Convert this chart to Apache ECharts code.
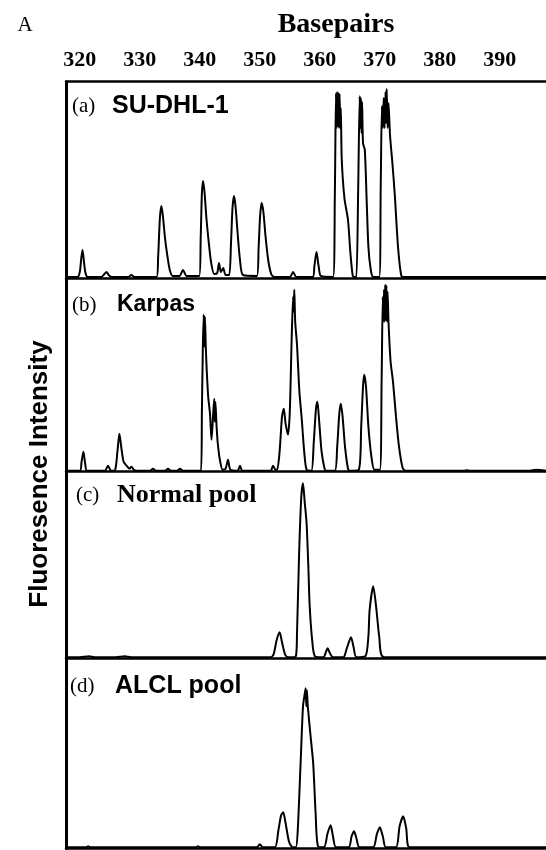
<!DOCTYPE html>
<html>
<head>
<meta charset="utf-8">
<script src="https://cdn.jsdelivr.net/npm/echarts@6/dist/echarts.min.js"></script>
<style>
html,body{margin:0;padding:0;background:#fff;}
#chart{width:546px;height:850px;}
</style>
</head>
<body>
<div id="chart"></div>
<script>
// ---- data (basepairs, fluorescence) ----
const tickLabels = [320, 330, 340, 350, 360, 370, 380, 390];
const panelNames = ['SU-DHL-1', 'Karpas', 'Normal pool', 'ALCL pool'];
const panelTags = ['(a)', '(b)', '(c)', '(d)'];

const traceA = [
  [317.7,1],[319.6,1],[320.0,6],[320.25,20],[320.45,28],[320.7,16],[320.95,5],[321.3,1],
  [323.6,1],[324.1,4],[324.45,6],[324.8,3],[325.3,1],[328.1,1],[328.6,3],[329.1,1],
  [332.8,1],[333.05,20],[333.35,60],[333.6,72],[333.85,62],[334.2,40],[334.6,22],[335.0,8],[335.5,2],
  [336.6,2],[337.2,8],[337.8,2],
  [339.9,2],[340.15,40],[340.35,85],[340.55,97],[340.8,85],[341.1,60],[341.5,35],[341.9,15],[342.4,4],
  [342.9,5],[343.2,15],[343.5,6],[343.9,10],[344.3,3],
  [344.9,3],[345.2,35],[345.45,70],[345.7,82],[345.95,72],[346.3,45],[346.7,18],[347.2,3],
  [349.5,2],[349.8,30],[350.05,62],[350.3,75],[350.6,66],[350.95,42],[351.4,18],[351.9,4],[352.4,1],
  [355.0,1],[355.55,6],[356.1,1],
  [358.8,1],[359.1,12],[359.45,26],[359.8,12],[360.2,2],
  [362.2,1],[362.5,80],[362.7,185],[362.8,150],[362.9,186],[363.0,152],[363.1,185],[363.2,150],
  [363.3,184],[363.4,150],[363.5,170],[363.65,120],[364.1,80],[364.7,58],[365.1,25],[365.5,2],[365.8,1],
  [366.1,1],[366.4,90],[366.65,182],[366.75,150],[366.85,180],[366.95,145],[367.05,176],[367.2,135],
  [367.5,128],[367.8,80],[368.1,31],[368.5,8],[368.9,1],
  [369.9,1],[370.15,90],[370.35,172],[370.5,150],[370.65,180],[370.8,150],[370.95,186],[371.05,155],
  [371.15,189],[371.3,150],[371.45,175],[371.7,143],[372.1,115],[372.5,83],[373.05,30],[373.6,2],[374.2,1],
  [397.7,1]
];

const traceB = [
  [317.7,1],[320.0,1],[320.3,10],[320.6,20],[320.9,8],[321.2,1],
  [324.2,1],[324.7,6],[325.2,1],[325.9,2],[326.3,22],[326.6,38],[326.9,25],[327.3,10],[327.8,6],
  [328.3,3],[328.6,5],[329.0,2],[329.5,1],
  [331.7,1],[332.2,3],[332.7,1],[334.2,1],[334.7,3],[335.2,1],[336.2,1],[336.7,3],[337.2,1],
  [340.2,1],[340.35,60],[340.5,122],[340.65,157],[340.75,125],[340.85,155],[341.0,125],[341.15,102],[341.4,75],
  [341.7,58],[341.95,32],[342.2,55],[342.4,73],[342.5,50],[342.6,70],[342.8,45],[343.05,25],[343.4,10],[343.8,2],
  [344.3,3],[344.7,12],[345.1,2],[346.3,1],[346.7,6],[347.1,1],
  [351.8,1],[352.2,6],[352.6,2],
  [352.9,2],[353.3,20],[353.7,55],[354.0,63],[354.3,48],[354.7,37],[355.0,60],[355.3,130],
  [355.55,175],[355.65,160],[355.75,182],[355.9,150],[356.2,127],[356.6,80],[357.0,52],[357.4,20],[357.8,2],
  [358.6,1],[359.0,30],[359.35,62],[359.6,70],[359.9,50],[360.3,20],[360.8,3],[361.1,1],
  [362.5,1],[362.9,25],[363.25,58],[363.5,68],[363.8,55],[364.2,25],[364.7,3],[365.0,1],
  [366.5,2],[366.9,45],[367.2,85],[367.4,97],[367.7,85],[368.1,45],[368.6,15],[369.1,2],
  [370.0,2],[370.3,90],[370.5,175],[370.6,150],[370.7,182],[370.8,150],[370.9,187],[371.0,152],
  [371.1,186],[371.2,150],[371.3,180],[371.45,150],
  [371.8,110],[372.2,90],[372.7,55],[373.2,25],[373.8,4],[374.3,1],
  [384.0,1],[384.5,1.5],[385.0,1],[395.0,1],[396.0,2],[397.7,1]
];

const traceC = [
  [317.7,1],[320.0,1],[321.5,2],[322.5,1],[326.0,1],[327.5,2],[328.5,1],
  [351.8,1],[352.3,4],[352.8,18],[353.3,26],[353.7,16],[354.2,4],[354.7,1],
  [356.0,2],[356.2,25],[356.55,104],[356.9,160],[357.2,175],[357.5,155],[357.8,135],[358.1,90],
  [358.3,54],[358.7,20],[359.2,2],
  [360.6,1],[361.0,6],[361.3,10],[361.7,5],[362.2,1],
  [363.9,1],[364.5,10],[365.2,21],[365.6,12],[366.1,1],
  [367.6,2],[368.1,22],[368.3,48],[368.9,72],[369.45,48],[369.9,22],[370.7,1],
  [397.7,1]
];

const traceD = [
  [317.7,1],[321.0,1],[321.4,2],[321.8,1],[339.3,1],[339.7,2],[340.1,1],[349.5,1],[350.0,4],[350.5,1],
  [352.5,1],[353.1,18],[353.55,33],[353.9,36],[354.3,25],[354.9,6],[355.5,1],
  [356.0,1],[356.3,15],[356.8,85],[357.2,142],[357.5,155],[357.65,160],[357.75,142],[357.85,158],[358.0,142],
  [358.5,110],[358.9,85],[359.3,35],[359.7,2],
  [360.7,1],[361.3,15],[361.8,23],[362.2,12],[362.7,1],
  [364.8,1],[365.3,12],[365.7,17],[366.1,10],[366.6,1],
  [368.9,1],[369.5,14],[370.0,21],[370.5,12],[371.0,1],
  [372.7,1],[373.3,22],[373.9,32],[374.4,20],[375.0,1],
  [397.7,1]
];

const traces = [traceA, traceB, traceC, traceD];

// ---- layout ----
const xMin = 317.7, xMax = 397.7;
const gridTops = [81.7, 278, 471.7, 658.3];
const gridHeights = [196.3, 193.7, 186.6, 190];
const labelY = [106, 305, 495, 686];

const chart = echarts.init(document.getElementById('chart'), null, {renderer: 'canvas'});

const grids = [], xAxes = [], yAxes = [], series = [];
for (let i = 0; i < 4; i++) {
  grids.push({left: 66, right: 0, top: gridTops[i], height: gridHeights[i], containLabel: false});
  xAxes.push({
    type: 'value', gridIndex: i, min: xMin, max: xMax, position: 'bottom',
    axisLine: {show: true, onZero: false, lineStyle: {color: '#000', width: 2.5}},
    axisTick: {show: false}, axisLabel: {show: false}, splitLine: {show: false}
  });
  yAxes.push({
    type: 'value', gridIndex: i, min: 0, max: gridHeights[i],
    axisLine: {show: true, onZero: false, lineStyle: {color: '#000', width: 3}},
    axisTick: {show: false}, axisLabel: {show: false}, splitLine: {show: false}
  });
  series.push({
    type: 'line', xAxisIndex: i, yAxisIndex: i, data: traces[i],
    showSymbol: false, smooth: 0.25, clip: true,
    lineStyle: {color: '#000', width: 2}
  });
}
// top axis with basepair labels
xAxes.push({
  type: 'value', gridIndex: 0, min: xMin, max: xMax, position: 'top',
  axisLine: {show: true, onZero: false, lineStyle: {color: '#000', width: 2.5}},
  axisTick: {show: false}, splitLine: {show: false},
  axisLabel: {
    show: true, customValues: tickLabels, margin: 10,
    color: '#000', fontFamily: 'Liberation Serif', fontWeight: 'bold', fontSize: 22
  }
});

const graphics = [
  {type: 'text', x: 25, y: 25, style: {text: 'A', fill: '#000', font: '21px "Liberation Serif"', align: 'center', verticalAlign: 'middle'}},
  {type: 'text', x: 336, y: 25, style: {text: 'Basepairs', fill: '#000', font: 'bold 28px "Liberation Serif"', align: 'center', verticalAlign: 'middle'}},
  {type: 'text', x: 40, y: 474, rotation: Math.PI / 2, style: {text: 'Fluoresence Intensity', fill: '#000', font: 'bold 26px "Liberation Sans Narrow", "Liberation Sans"', align: 'center', verticalAlign: 'middle'}}
];
const nameFonts = ['bold 25px "Liberation Sans"', 'bold 23px "Liberation Sans"', 'bold 26px "Liberation Serif"', 'bold 25px "Liberation Sans"'];
const tagX = [72, 72, 76, 70];
const nameX = [112, 117, 117, 115];
for (let i = 0; i < 4; i++) {
  graphics.push({type: 'text', x: tagX[i], y: labelY[i], style: {text: panelTags[i], fill: '#000', font: '21px "Liberation Serif"', align: 'left', verticalAlign: 'middle'}});
  graphics.push({type: 'text', x: nameX[i], y: labelY[i], style: {text: panelNames[i], fill: '#000', font: nameFonts[i], align: 'left', verticalAlign: 'middle'}});
}

chart.setOption({
  animation: false,
  backgroundColor: '#fff',
  grid: grids,
  xAxis: xAxes,
  yAxis: yAxes,
  series: series,
  graphic: graphics
});
</script>
</body>
</html>
